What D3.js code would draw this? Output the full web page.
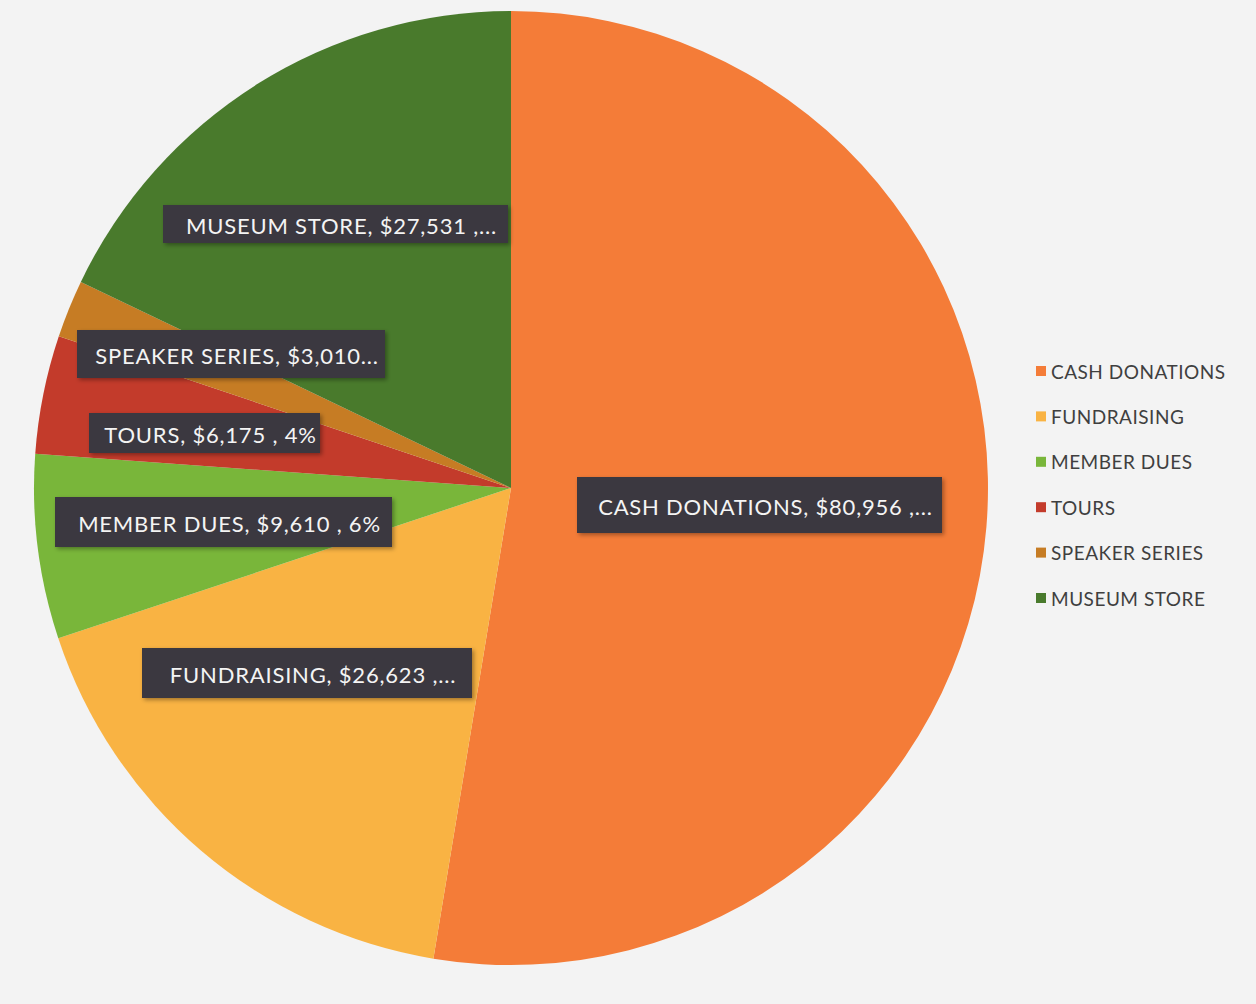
<!DOCTYPE html>
<html>
<head>
<meta charset="utf-8">
<script src="https://cdn.jsdelivr.net/npm/d3@7"></script>
<style>
  body { margin: 0; background: #f3f3f3; }
  svg { display: block; }
</style>
</head>
<body>
<div id="canvas"></div>
<script>
"use strict"

/* data */
let categories = ["CASH DONATIONS", "FUNDRAISING", "MEMBER DUES", "TOURS", "SPEAKER SERIES", "MUSEUM STORE"];
let amounts = [80956, 26623, 9610, 6175, 3010, 27531];
let labelTexts = [
    "CASH DONATIONS, $80,956 ,...",
    "FUNDRAISING, $26,623 ,...",
    "MEMBER DUES, $9,610 , 6%",
    "TOURS, $6,175 , 4%",
    "SPEAKER SERIES, $3,010...",
    "MUSEUM STORE, $27,531 ,..."
];
let colors = ["#f47c38", "#f9b343", "#79b63a", "#c33b2b", "#c67c24", "#497a2c"];

/* drawing config */
let svgWidth = 1256;
let svgHeight = 1004;
let cx = 511;
let cy = 488;
let radius = 477;

/* label box placement (box left, top, width, height relative to pie centre) */
let labelBoxes = [
    { x: 66, y: -11, w: 365, h: 56 },
    { x: -369, y: 160, w: 330, h: 50 },
    { x: -456, y: 9, w: 337, h: 50 },
    { x: -422, y: -75, w: 231, h: 40 },
    { x: -434, y: -158, w: 308, h: 48 },
    { x: -348, y: -283, w: 345, h: 38 }
];

let svg = d3.select("#canvas")
    .append("svg")
    .attr("width", svgWidth)
    .attr("height", svgHeight);

svg.append("rect")
    .attr("width", svgWidth)
    .attr("height", svgHeight)
    .attr("fill", "#f3f3f3");

/* soft shadow for the label boxes */
let defs = svg.append("defs");
let shadow = defs.append("filter")
    .attr("id", "shadow")
    .attr("x", "-10%").attr("y", "-30%")
    .attr("width", "120%").attr("height", "160%");
shadow.append("feDropShadow")
    .attr("dx", 2).attr("dy", 2)
    .attr("stdDeviation", 2)
    .attr("flood-color", "#000")
    .attr("flood-opacity", 0.35);

let dataset = categories.map(function (name, i) {
    return { name: name, amount: amounts[i], color: colors[i], label: labelTexts[i], box: labelBoxes[i] };
});

let pie = d3.pie()
    .value(function (d) { return d.amount; })
    .sort(null);

let arc = d3.arc()
    .innerRadius(0)
    .outerRadius(radius);

let pieGroup = svg.append("g")
    .attr("transform", `translate(${cx},${cy})`);

pieGroup.selectAll("path")
    .data(pie(dataset))
    .join("path")
    .attr("d", arc)
    .attr("fill", function (d) { return d.data.color; });

/* data labels: dark boxes with white text */
let labels = pieGroup.selectAll("g.label")
    .data(pie(dataset))
    .join("g")
    .attr("class", "label");

labels.append("rect")
    .attr("x", function (d) { return d.data.box.x; })
    .attr("y", function (d) { return d.data.box.y; })
    .attr("width", function (d) { return d.data.box.w; })
    .attr("height", function (d) { return d.data.box.h; })
    .attr("fill", "#3a393f")
    .attr("filter", "url(#shadow)");

labels.append("text")
    .attr("x", function (d) { return d.data.box.x + d.data.box.w / 2 + 6; })
    .attr("y", function (d) { return d.data.box.y + d.data.box.h / 2 + 1; })
    .attr("text-anchor", "middle")
    .attr("dominant-baseline", "central")
    .attr("fill", "#f4f4f4")
    .attr("font-family", "Lato, 'Open Sans', sans-serif")
    .attr("font-size", 22)
    .attr("letter-spacing", 0.8)
    .text(function (d) { return d.data.label; });

/* legend */
let legendX = 1036;
let legendY = 371;
let legendStep = 45.4;

let legend = svg.selectAll("g.legend")
    .data(dataset)
    .join("g")
    .attr("class", "legend")
    .attr("transform", function (d, i) { return `translate(${legendX},${legendY + i * legendStep})`; });

legend.append("rect")
    .attr("x", 0)
    .attr("y", -5)
    .attr("width", 10)
    .attr("height", 10)
    .attr("fill", function (d) { return d.color; });

legend.append("text")
    .attr("x", 15)
    .attr("y", 0)
    .attr("dominant-baseline", "central")
    .attr("fill", "#3f3f3f")
    .attr("font-family", "Lato, 'Open Sans', sans-serif")
    .attr("font-size", 19)
    .attr("letter-spacing", 0.5)
    .text(function (d) { return d.name; });
</script>
</body>
</html>
